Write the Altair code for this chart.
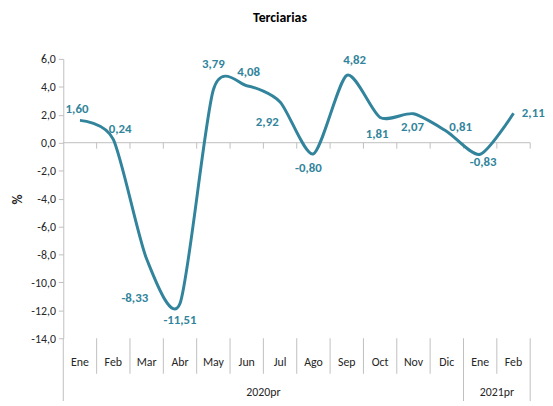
import altair as alt
import pandas as pd

# ---- data ----
months = ["Ene", "Feb", "Mar", "Abr", "May", "Jun", "Jul", "Ago", "Sep", "Oct", "Nov", "Dic", "Ene", "Feb"]
years = ["2020pr"] * 12 + ["2021pr"] * 2
values = [1.60, 0.24, -8.33, -11.51, 3.79, 4.08, 2.92, -0.80, 4.82, 1.81, 2.07, 0.81, -0.83, 2.11]
y_ticks = [6, 4, 2, 0, -2, -4, -6, -8, -10, -12, -14]

# label placement (pixel offsets, style only)
label_dx = [-3, 7, -12, 0, 0, 2, -13, -5, 8, -3, -1, 14, 3, 20]
label_dy = [-11, -10, 40, 17, -26, -14, 20, 14, -16, 17, 13, -4, 8, 0]

TEAL = "#31849B"
GRAY = "#BFBFBF"
TXT = "#262626"
FONT = "Carlito, Lato, 'Open Sans', sans-serif"
W, H = 473, 283
N = len(months)

df = pd.DataFrame({
    "i": list(range(N)),
    "month": months,
    "year": years,
    "value": values,
})
df["xc"] = df["i"] + 0.5
df["label"] = [f"{v:.2f}".replace(".", ",") for v in values]

bounds = pd.DataFrame({"b": list(range(1, N + 1)), "z": [0] * N})
inner = pd.DataFrame({"b": [b for b in range(1, N) if years[b] == years[b - 1]]})
ystarts = [0] + [b for b in range(1, N) if years[b] != years[b - 1]] + [N]
ysep = pd.DataFrame({"b": ystarts})
ylab = []
for k in range(len(ystarts) - 1):
    ylab.append({"x": (ystarts[k] + ystarts[k + 1]) / 2, "year": years[ystarts[k]]})
ylab = pd.DataFrame(ylab)
zline = pd.DataFrame({"x0": [0], "x1": [N], "z": [0]})

xscale = alt.Scale(domain=[0, N], nice=False, zero=False)
yscale = alt.Scale(domain=[-14, 6], nice=False, zero=False)

yaxis = alt.Axis(
    values=y_ticks,
    labelExpr="replace(replace(format(datum.value, '.1f'), '.', ','), '\u2212', '-')",
    grid=False,
    domainColor=GRAY,
    tickColor=GRAY,
    tickSize=5,
    labelPadding=3,
    labelFontSize=12,
    labelColor=TXT,
    labelFont=FONT,
    title="%",
    titleFont=FONT,
    titleFontSize=14,
    titleFontWeight="bold",
    titleColor=TXT,
    titleAngle=-90,
    titleX=-46,
    titleY=142,
    titleAlign="center",
    titleBaseline="middle",
)


def X(f):
    return alt.X(f, scale=xscale, axis=None)


def Y(f):
    return alt.Y(f, scale=yscale, axis=yaxis, title="%")


base = alt.Chart(df)

line = base.mark_line(interpolate="cardinal", tension=0.25, color=TEAL, strokeWidth=3).encode(
    x=X("xc:Q"), y=Y("value:Q")
)

zero = alt.Chart(zline).mark_rule(color=GRAY, strokeWidth=1).encode(
    x=X("x0:Q"), x2="x1:Q", y=Y("z:Q")
)

zticks = alt.Chart(bounds).mark_rule(color=GRAY, strokeWidth=1).encode(
    x=X("b:Q"), y=Y("z:Q"), y2=alt.value(H * 6 / 20 + 6)
)

labels = []
for k in range(N):
    labels.append(
        alt.Chart(df[df["i"] == k]).mark_text(
            dx=label_dx[k], dy=label_dy[k], color=TEAL, font=FONT, fontSize=13,
            fontWeight="bold", baseline="middle", align="center",
        ).encode(x=X("xc:Q"), y=Y("value:Q"), text="label:N")
    )

mlabels = base.mark_text(font=FONT, fontSize=12, color=TXT, baseline="middle").encode(
    x=X("xc:Q"), y=alt.value(H + 24), text="month:N"
)

msep = alt.Chart(inner).mark_rule(color=GRAY, strokeWidth=1).encode(
    x=X("b:Q"), y=alt.value(H), y2=alt.value(H + 36)
)

ysepr = alt.Chart(ysep).mark_rule(color=GRAY, strokeWidth=1).encode(
    x=X("b:Q"), y=alt.value(H), y2=alt.value(H + 70)
)

ylabels = alt.Chart(ylab).mark_text(font=FONT, fontSize=12, color=TXT, baseline="middle").encode(
    x=X("x:Q"), y=alt.value(H + 55), text="year:N"
)

chart = alt.layer(zero, zticks, msep, ysepr, line, *labels, mlabels, ylabels).properties(
    width=W,
    height=H,
    title=alt.TitleParams(
        "Terciarias", font=FONT, fontSize=14, fontWeight="bold", color="#000000",
        anchor="middle", dx=-17, offset=28,
    ),
    autosize=alt.AutoSizeParams(type="none"),
    padding={"left": 56, "top": 49, "right": 15, "bottom": 61},
).configure_view(stroke=None)

chart.save("out.html", embed_options={"renderer": "svg", "actions": False})
